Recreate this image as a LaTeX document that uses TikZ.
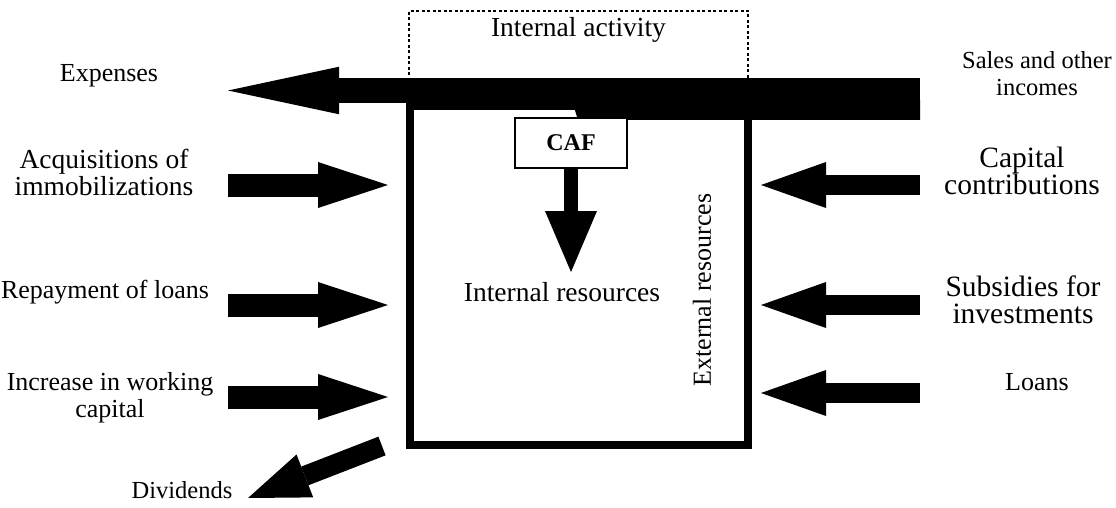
\documentclass[tikz,border=0pt]{standalone}
\usepackage{fontspec}
\setmainfont{Liberation Serif}
\usetikzlibrary{arrows.meta, positioning}

\begin{document}
\begin{tikzpicture}[x=1pt, y=-1pt,
    font=\fontsize{26}{27}\selectfont,
    txt/.style={align=center, inner sep=0pt},
    big/.style={font=\fontsize{27.5}{27}\selectfont},
    wide/.style={font=\fontsize{29.5}{27}\selectfont},
    small/.style={font=\fontsize{24.5}{27}\selectfont},
    frame/.style={draw, line width=8pt, minimum width=338pt, minimum height=338.5pt},
    dotbox/.style={draw, line width=1.3pt, dash pattern=on 3pt off 2.5pt,
      minimum width=339pt, minimum height=69pt},
    cafbox/.style={draw, fill=white, line width=1.2pt, minimum width=112pt,
      minimum height=50pt, font=\fontsize{24}{26}\selectfont\bfseries},
    bigflow/.style={line width=24.5pt, -{Triangle[length=111pt, width=47.5pt, line width=0pt]}},
    inflow/.style={line width=23pt, -{Triangle[length=70pt, width=46pt, line width=0pt]}},
    outflow/.style={line width=20pt, -{Triangle[length=65pt, width=46pt, line width=0pt]}},
    cafflow/.style={line width=14pt, -{Triangle[length=61pt, width=52pt, line width=0pt]}},
    divflow/.style={line width=20pt, -{Triangle[length=61pt, width=46pt, line width=0pt]}}]
  \useasboundingbox (0,0) rectangle (1116,508);

  % firm and its internal activity
  \node[frame]  (firm)     at (579,275.25) {};
  \node[dotbox] (activity) at (578.5,45.5) {};
  \node[txt, big] (actlabel) [below=6.5pt of activity.north] {Internal activity};

  % end points of the flows
  \coordinate (salesT) at (920,90.5);
  \coordinate (expH)   at (228,90.5);
  \coordinate (acqT)   at (228,185);
  \coordinate (acqH)   at (388,185);
  \coordinate (repT)   at (228,305);
  \coordinate (repH)   at (388,305);
  \coordinate (wcT)    at (228,397);
  \coordinate (wcH)    at (388,397);
  \coordinate (capT)   at (920,185);
  \coordinate (capH)   at (761,185);
  \coordinate (subT)   at (920,305);
  \coordinate (subH)   at (761,305);
  \coordinate (loanT)  at (920,393);
  \coordinate (loanH)  at (761,393);
  \coordinate (divT)   at (382,446);
  \coordinate (divH)   at (248,498);

  \path (salesT) edge[bigflow] (expH);
  \fill (573,104) -- (578,120) -- (920,120) -- (920,100) -- cycle;

  \node[cafbox] (caf) at (571,143) {CAF};
  \coordinate (cafTip) at (571,272);

  \path
    (caf)   edge[cafflow] (cafTip)
    (acqT)  edge[inflow]  (acqH)
    (repT)  edge[inflow]  (repH)
    (wcT)   edge[inflow]  (wcH)
    (capT)  edge[outflow] (capH)
    (subT)  edge[outflow] (subH)
    (loanT) edge[outflow] (loanH)
    (divT)  edge[divflow] (divH);

  % labels
  \node[txt] (expenses) at (109,76)  {Expenses};
  \node[txt, big] (acq) at (104,172) {Acquisitions of\\immobilizations};
  \node[txt] (repay)    at (105,292) {Repayment of loans};
  \node[txt] (wc)       at (110,398) {Increase in working\\capital};
  \node[txt, small] (div) at (182,490) {Dividends};
  \node[txt, small] (sales) at (1037,74) {Sales and other\\incomes};
  \node[txt, wide] (capital) at (1022,171) {Capital\\contributions};
  \node[txt, wide] (subs)    at (1023,300) {Subsidies for\\investments};
  \node[txt] (loans)    at (1037,382) {Loans};
  \node[txt, big] (intres) [below=10pt of cafTip, xshift=-9pt] {Internal resources};
  \node[txt, rotate=90] (extres) at (702,290) {External resources};
\end{tikzpicture}
\end{document}
